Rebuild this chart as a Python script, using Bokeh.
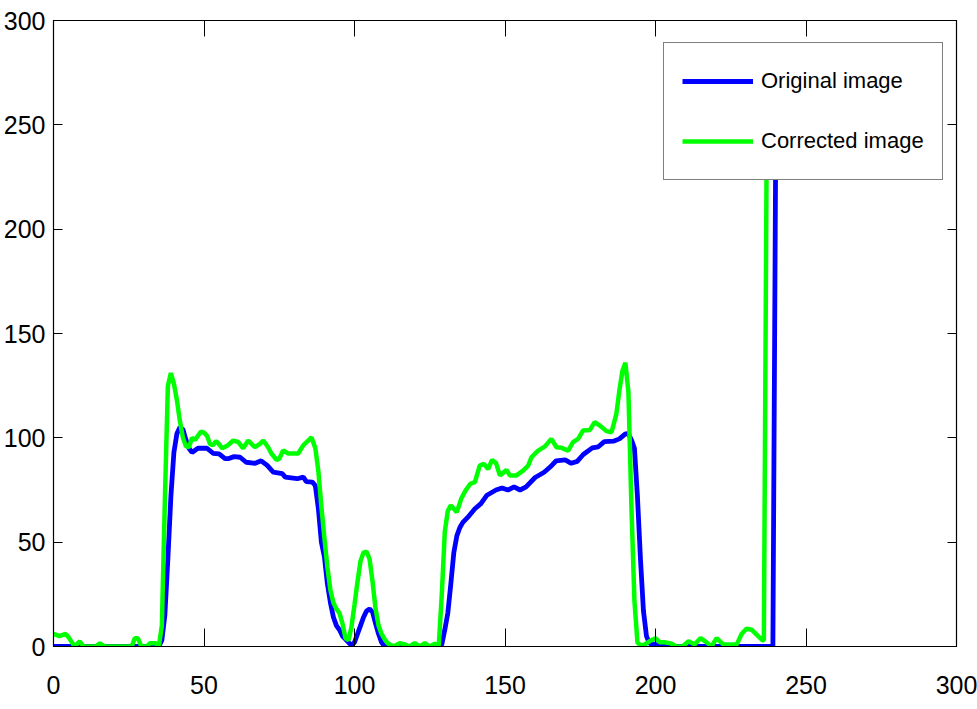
from bokeh.plotting import figure
from bokeh.models import Range1d, LinearAxis, FixedTicker, Legend, LegendItem, CustomJSTickFormatter
from bokeh.embed import file_html
from bokeh.resources import INLINE

# ---- data ----
orig_x = [0, 35, 36, 37, 38, 39, 40, 41, 42, 43, 44, 45, 46, 48, 51, 53, 55, 57, 58, 60, 62, 64, 67, 69,
          71, 73, 76, 77, 81, 83, 84, 86, 87, 88, 89, 90, 91, 92, 93, 94, 95, 96, 97, 98, 99, 100, 101,
          102, 103, 104, 105, 106, 107, 108, 109, 110, 128, 129, 130, 131, 132, 133, 134, 135, 136, 138,
          140, 142, 144, 147, 149, 151, 153, 155, 157, 160, 163, 165, 167, 170, 172, 174, 176, 179, 181,
          183, 186, 188, 190, 191, 192, 193, 194, 195, 196, 197, 198, 200, 202, 239, 240]
orig_y = [0, 0, 3, 15, 42, 72, 93, 102, 105, 104, 99, 95, 93, 95, 95, 92.6, 92.3, 90, 90, 91, 90.7, 88.3,
          87.8, 89, 86.8, 83.6, 82.8, 81.2, 80.4, 81.2, 79, 78.8, 77, 66, 50, 43, 30, 21, 14, 10, 8, 5,
          3.5, 2, 0.5, 2, 6, 10, 14, 17, 18, 16.5, 11, 6, 2, 0, 0, 1, 8, 16, 30, 45, 53, 57, 59.5, 62.5,
          66, 68.5, 72.5, 75, 76, 75, 76.5, 75, 76.5, 81, 83.5, 86, 89, 89.4, 87.8, 88.7, 92, 95.2, 95.7,
          98.2, 98.4, 99.5, 101.9, 102, 99, 95, 72, 42, 17, 5, 1.5, 1, 0, 0, 255]

corr_x = [0, 2, 4, 5, 7, 8.7, 10, 14, 15.4, 17, 26, 27, 28, 29.2, 31, 32, 34, 35, 36, 37, 38, 39, 40, 41,
          42, 43, 44, 45, 46, 47, 48, 49, 50, 51, 52, 53, 54, 55, 56, 58, 59.7, 61.4, 63, 64.7, 66.9,
          68.5, 69.7, 71.3, 72.4, 74.1, 75, 76.3, 78, 81.3, 82.9, 84.5, 85.7, 87, 88, 89, 90, 91, 92, 93,
          94, 95, 96, 97, 98, 99, 100, 101, 102, 103, 104, 105, 106, 107, 108, 109, 110, 111, 113, 115,
          116.7, 118.3, 120, 121.7, 123.4, 125, 126.7, 128, 129, 130, 131, 132, 133, 134, 135.5, 137,
          138.5, 140, 141.6, 143, 144.4, 145.7, 147, 148.3, 150.5, 151.6, 153.8, 156, 157.7, 158.8, 161,
          163.2, 165.4, 167.1, 168.8, 171, 172.6, 174.3, 175.9, 178.2, 179.8, 181.5, 183.7, 185.4, 187,
          188, 189, 190, 191, 192, 193, 194, 195, 196.5, 198, 200, 201.5, 203, 205, 207, 209, 211, 213,
          215, 217, 218.6, 220.3, 222.5, 227, 228.6, 230.2, 232, 235.5, 236, 237]
corr_y = [6, 5, 6, 4.5, 0, 2.5, 0, 0, 1.5, 0, 0, 4, 4, 0, 0, 1.6, 1.6, 0, 10, 70, 125, 131, 126, 118,
          108, 100, 96, 95.5, 100, 99, 101, 103, 102.5, 101, 97, 96.5, 98.5, 97, 95, 96.5, 98.7, 98, 95,
          98.7, 95.5, 97, 98.7, 95.5, 92.5, 89.4, 90, 94, 92.5, 92.5, 96.3, 98.5, 100.3, 95, 84, 67, 52,
          38, 27, 21, 18, 16, 11, 4, 3, 9.5, 20, 31, 41, 45, 45.5, 42, 31, 18, 10, 6, 3.5, 1.6, 0, 1.6,
          1, 0, 1.6, 0, 1.6, 0, 1.3, 0.5, 25, 55, 65, 67.6, 66, 64.4, 71, 75, 78, 78.8, 86.7, 87.5, 85,
          89.4, 88, 82, 84.6, 82, 82, 84.3, 86.7, 90.7, 93.9, 95.8, 99.5, 95.5, 95.2, 93.9, 97.9, 99.5,
          103.5, 103.8, 107.5, 105.9, 103.2, 102.7, 111.5, 122.7, 132, 136, 122, 67, 22, 2, 0.5, 1, 2.5,
          4, 2, 2, 1.5, 0, 0, 2.5, 1, 4, 2, 0, 4, 1, 1, 6, 8.5, 8, 3, 3, 255]

series_labels = ["Original image", "Corrected image"]
axis_ticks = [0, 50, 100, 150, 200, 250, 300]

FONT = "Liberation Sans"

p = figure(width=977, height=709, frame_width=903, frame_height=626,
           output_backend="svg", toolbar_location=None,
           x_range=Range1d(0, 300), y_range=Range1d(0, 300),
           min_border_left=52, min_border_right=22, min_border_top=20, min_border_bottom=63,
           background_fill_color="white", border_fill_color="white")
p.xgrid.visible = False
p.ygrid.visible = False
p.outline_line_color = "black"
p.outline_line_width = 1.2

r1 = p.line(orig_x, orig_y, line_color="#0000ff", line_width=4.8)
r2 = p.line(corr_x, corr_y, line_color="#00ff00", line_width=4.5)

def style(ax, tick_in, labels=True):
    ax.ticker = FixedTicker(ticks=axis_ticks)
    ax.axis_line_color = "black"
    ax.major_tick_line_color = "black"
    ax.major_tick_in = tick_in
    ax.major_tick_out = 0
    ax.minor_tick_line_color = None
    if labels:
        ax.major_label_text_font = FONT
        ax.major_label_text_font_size = "25px"
        ax.major_label_text_color = "black"
    else:
        ax.formatter = CustomJSTickFormatter(code="return ''")
        ax.major_label_standoff = 0

style(p.xaxis[0], 18)
p.xaxis[0].major_label_standoff = 29
style(p.yaxis[0], 9)
p.yaxis[0].major_label_standoff = 8

top = LinearAxis()
style(top, 16, labels=False)
p.add_layout(top, "above")
right = LinearAxis()
style(right, 9, labels=False)
p.add_layout(right, "right")

legend = Legend(items=[LegendItem(label=series_labels[0], renderers=[r1]),
                       LegendItem(label=series_labels[1], renderers=[r2])],
                location=(610, 466))
legend.glyph_width = 71
legend.glyph_height = 40
legend.label_height = 40
legend.label_standoff = 8
legend.spacing = 20
legend.padding = 18
legend.margin = 0
legend.label_text_font = FONT
legend.label_text_font_size = "22px"
legend.label_text_color = "black"
legend.border_line_color = "black"
legend.border_line_width = 1.2
legend.background_fill_color = "white"
legend.background_fill_alpha = 1.0
p.add_layout(legend, "center")

open("out.html", "w").write(file_html(p, INLINE))
